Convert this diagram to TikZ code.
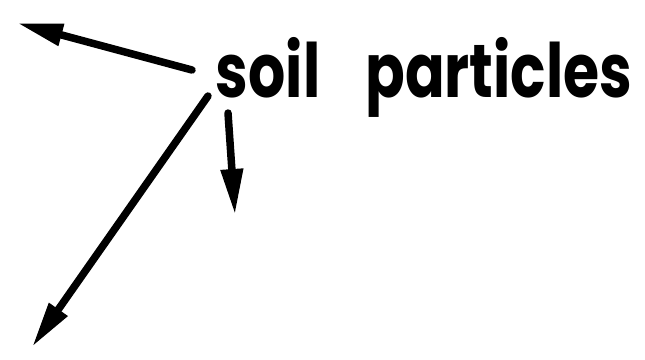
\documentclass[tikz,border=0pt]{standalone}
\usepackage{fontspec}
\newfontfamily\labelfont{Poppins}
\usetikzlibrary{arrows.meta}

\begin{document}
\begin{tikzpicture}[x=1pt, y=-1pt, line width=7.5pt, line cap=round,
  tip/.style={-{Triangle[length=46pt, width=21pt]}}]

\useasboundingbox (0, 0) rectangle (645, 359);

% Text
\node[anchor=base west, inner sep=0, xscale=0.78,
  font=\labelfont\bfseries\fontsize{75}{80}\selectfont] (soil) at (213, 97) {soil\hspace{0.77em}particles};

% Ends
\coordinate (up start) at (192, 70);
\coordinate (up end) at (17, 23);
\coordinate (down start) at (228, 113);
\coordinate (down end) at (235, 215);
\coordinate (long start) at (208, 96);
\coordinate (long end) at (32, 347);

% Arrows
\draw[tip] (up start) -- (up end);
\draw[tip] (down start) -- (down end);
\draw[tip] (long start) -- (long end);

\end{tikzpicture}
\end{document}
